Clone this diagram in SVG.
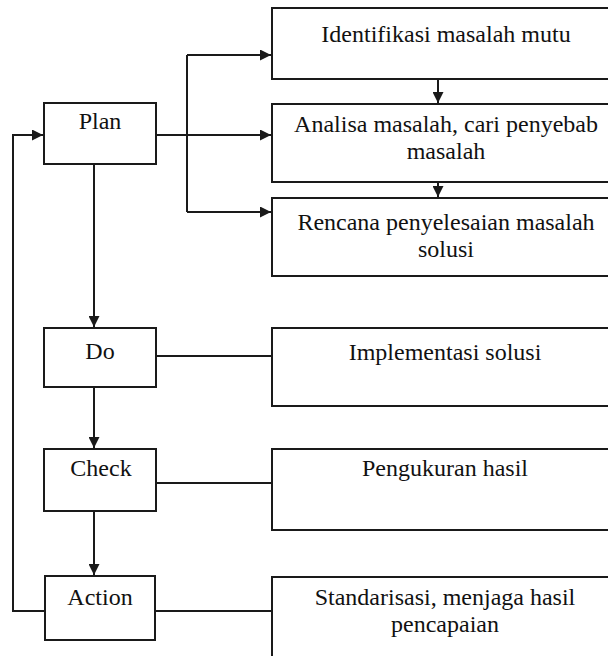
<svg xmlns="http://www.w3.org/2000/svg" width="608" height="656" viewBox="0 0 608 656" font-family="Liberation Serif, Times New Roman, DejaVu Serif, serif">
  <defs>
    <marker id="arrow" viewBox="0 0 10 10" refX="10" refY="5" markerWidth="11" markerHeight="11" markerUnits="userSpaceOnUse" orient="auto">
      <path d="M0,0 L10,5 L0,10 Z" fill="#1a1a1a"/>
    </marker>
  </defs>
  <style>
    .box { fill: #ffffff; stroke: #1a1a1a; stroke-width: 2; }
    .link { fill: none; stroke: #1a1a1a; stroke-width: 2; }
    .arrowed { marker-end: url(#arrow); }
    .label { font-size: 24px; fill: #111111; text-anchor: middle; }
  </style>
  <rect width="608" height="656" fill="#ffffff"/>

  <!-- connectors -->
  <g id="connectors">
    <!-- Plan fan-out to the three planning steps -->
    <path class="link" d="M156,135 H187"/>
    <path class="link" d="M187,55 V212"/>
    <path class="link arrowed" d="M187,55 H271"/>
    <path class="link arrowed" d="M187,135 H271"/>
    <path class="link arrowed" d="M187,212 H271"/>
    <!-- planning steps in sequence -->
    <path class="link arrowed" d="M438,79 V103"/>
    <path class="link arrowed" d="M438,182 V197"/>
    <!-- main PDCA chain -->
    <path class="link arrowed" d="M94,164 V327"/>
    <path class="link arrowed" d="M94,387 V448"/>
    <path class="link arrowed" d="M94,511 V575"/>
    <!-- feedback from Action back to Plan -->
    <path class="link arrowed" d="M44,611 H13 V135 H43"/>
    <!-- stage to description links -->
    <path class="link" d="M156,356 H272"/>
    <path class="link" d="M156,483 H272"/>
    <path class="link" d="M155,611 H272"/>
  </g>

  <!-- PDCA stages -->
  <g id="plan">
    <rect class="box" x="44" y="103" width="112" height="61"/>
    <text class="label" x="100" y="129" font-family="Liberation Serif, serif">Plan</text>
  </g>
  <g id="do">
    <rect class="box" x="44" y="328" width="112" height="59"/>
    <text class="label" x="100" y="359" font-family="Liberation Serif, serif">Do</text>
  </g>
  <g id="check">
    <rect class="box" x="44" y="449" width="112" height="62"/>
    <text class="label" x="101" y="476" font-family="Liberation Serif, serif">Check</text>
  </g>
  <g id="action">
    <rect class="box" x="45" y="576" width="110" height="64"/>
    <text class="label" x="100" y="605" font-family="Liberation Serif, serif">Action</text>
  </g>

  <!-- step descriptions -->
  <g id="identifikasi">
    <rect class="box" x="272" y="8" width="348" height="71"/>
    <text class="label" x="446" y="42" font-family="Liberation Serif, serif">Identifikasi masalah mutu</text>
  </g>
  <g id="analisa">
    <rect class="box" x="272" y="104" width="348" height="78"/>
    <text class="label" x="446" y="132" font-family="Liberation Serif, serif">Analisa masalah, cari penyebab</text>
    <text class="label" x="446" y="159" font-family="Liberation Serif, serif">masalah</text>
  </g>
  <g id="rencana">
    <rect class="box" x="272" y="198" width="348" height="78"/>
    <text class="label" x="446" y="230" font-family="Liberation Serif, serif">Rencana penyelesaian masalah</text>
    <text class="label" x="446" y="257" font-family="Liberation Serif, serif">solusi</text>
  </g>
  <g id="implementasi">
    <rect class="box" x="272" y="328" width="348" height="78"/>
    <text class="label" x="445" y="360" font-family="Liberation Serif, serif">Implementasi solusi</text>
  </g>
  <g id="pengukuran">
    <rect class="box" x="272" y="449" width="348" height="81"/>
    <text class="label" x="445" y="476" font-family="Liberation Serif, serif">Pengukuran hasil</text>
  </g>
  <g id="standarisasi">
    <rect class="box" x="272" y="577" width="348" height="90"/>
    <text class="label" x="445" y="605" font-family="Liberation Serif, serif">Standarisasi, menjaga hasil</text>
    <text class="label" x="445" y="632" font-family="Liberation Serif, serif">pencapaian</text>
  </g>
</svg>
